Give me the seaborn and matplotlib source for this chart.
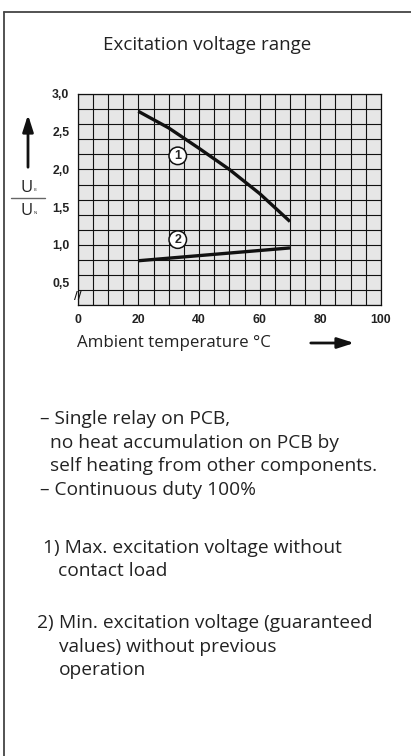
"""Excitation voltage range chart."""

import matplotlib
matplotlib.use("Agg")
import matplotlib.pyplot as plt
from matplotlib.lines import Line2D
from matplotlib.ticker import FixedFormatter
import seaborn as sns
import pandas as pd

# Data
temp_1 = [20, 30, 40, 50, 60, 70]
ratio_1 = [2.77, 2.55, 2.28, 2.00, 1.68, 1.31]
temp_2 = [20, 70]
ratio_2 = [0.79, 0.96]

x_ticks = [0, 20, 40, 60, 80, 100]
y_ticks = [0.5, 1.0, 1.5, 2.0, 2.5, 3.0]
y_tick_labels = ["0,5", "1,0", "1,5", "2,0", "2,5", "3,0"]
x_grid = list(range(0, 101, 5))
y_grid = [0.2, 0.4, 0.6, 0.8, 1.0, 1.2, 1.4, 1.6, 1.8, 2.0, 2.2, 2.4, 2.6, 2.8, 3.0]

title = "Excitation voltage range"
x_label = "Ambient temperature °C"
notes = [
    ("", ["– Single relay on PCB,", "  no heat accumulation on PCB by",
          "  self heating from other components."]),
    ("", ["– Continuous duty 100%"]),
    ("", ["1) Max. excitation voltage without", "   contact load"]),
    ("2)", ["Min. excitation voltage (guaranteed", "values) without previous",
            "operation"]),
]

sns.set_style("white")
plt.rcParams['font.family'] = ['Open Sans', 'DejaVu Sans']

TXT = "#222222"

fig = plt.figure(figsize=(4.11, 7.56), dpi=100)
ax = fig.add_axes([0.189, 0.5962, 0.738, 0.2795])
ax.set_facecolor("#e6e6e6")

# grid every 5 degrees and every 0.2 in ratio
ax.vlines(x_grid, 0.2, 3.0, color="#111111", linewidth=0.8, zorder=1)
ax.hlines(y_grid, 0, 100, color="#111111", linewidth=0.8, zorder=1)

df1 = pd.DataFrame({"t": temp_1, "r": ratio_1})
df2 = pd.DataFrame({"t": temp_2, "r": ratio_2})
sns.lineplot(data=df1, x="t", y="r", ax=ax, color="#111111", linewidth=2.4,
             zorder=5, solid_capstyle="butt")
sns.lineplot(data=df2, x="t", y="r", ax=ax, color="#111111", linewidth=2.4,
             zorder=5, solid_capstyle="butt")

ax.set_xlim(0, 100)
ax.set_ylim(0.2, 3.0)
ax.set_xticks(x_ticks)
ax.set_yticks(y_ticks)
ax.yaxis.set_major_formatter(FixedFormatter(y_tick_labels))
ax.tick_params(axis="both", which="major", length=3, width=0.8, pad=3,
               labelsize=8.8, labelcolor=TXT, color="#111111")
for lab in ax.get_xticklabels() + ax.get_yticklabels():
    lab.set_family("Liberation Sans")
    lab.set_fontweight("bold")
for s in ax.spines.values():
    s.set_color("#111111")
    s.set_linewidth(0.9)
ax.set_xlabel("")
ax.set_ylabel("")

# circled curve numbers
for num, (x, y) in zip(["1", "2"], [(33, 2.18), (33, 1.07)]):
    ax.text(x, y, num, ha="center", va="center", fontsize=9, fontweight="bold",
            family="Liberation Sans", zorder=6,
            bbox=dict(boxstyle="circle,pad=0.22", fc="white", ec="#111111", lw=1.1))

# axis break mark
ax.text(0, 0.32, "//", ha="center", va="center", fontsize=7.5, fontweight="bold",
        rotation=0, family="DejaVu Sans", color="#111111", clip_on=False, zorder=6)

# frame around figure
fig.add_artist(Line2D([4 / 411, 4 / 411], [0, 1 - 12 / 756], color="#444444", lw=1.3))
fig.add_artist(Line2D([4 / 411, 1], [1 - 12 / 756, 1 - 12 / 756], color="#444444", lw=1.3))

fig.text(207 / 411, 1 - 45 / 756, title, ha="center", va="center", fontsize=13.5,
         color=TXT)

# y label: arrow and U_B / U_N fraction
arrow_style = "-|>,head_length=1.0,head_width=0.32"
fig.add_artist(plt.Annotation("", xy=(28 / 411, 1 - 112 / 756),
                              xytext=(28 / 411, 1 - 170 / 756),
                              xycoords="figure fraction",
                              arrowprops=dict(arrowstyle=arrow_style,
                                              color="#111111", lw=2.0)))
fig.text(27 / 411, 1 - 188 / 756, "U", ha="center", va="center", fontsize=12, color=TXT)
fig.text(35 / 411, 1 - 190 / 756, "B", ha="center", va="center", fontsize=3, color=TXT)
fig.add_artist(Line2D([11 / 411, 45 / 411], [1 - 198 / 756, 1 - 198 / 756],
                      color="#666666", lw=1.0))
fig.text(27 / 411, 1 - 211 / 756, "U", ha="center", va="center", fontsize=12, color=TXT)
fig.text(35 / 411, 1 - 213 / 756, "N", ha="center", va="center", fontsize=3, color=TXT)

# x label and arrow
fig.text(77 / 411, 1 - 343 / 756, x_label, ha="left", va="center", fontsize=12.2,
         color=TXT)
fig.add_artist(plt.Annotation("", xy=(357 / 411, 1 - 343 / 756),
                              xytext=(308 / 411, 1 - 343 / 756),
                              xycoords="figure fraction",
                              arrowprops=dict(arrowstyle=arrow_style,
                                              color="#111111", lw=2.0)))

# notes
starts = [424, 495, 553, 628]
marker_x = [40, 40, 43, 37]
text_x = [40, 40, 43, 59]
line_h = 23.5
for (mark, lines), y0, mx, tx in zip(notes, starts, marker_x, text_x):
    if mark:
        fig.text(mx / 411, 1 - y0 / 756, mark, ha="left", va="baseline",
                 fontsize=13.8, color=TXT)
    for i, line in enumerate(lines):
        fig.text(tx / 411, 1 - (y0 + i * line_h) / 756, line, ha="left",
                 va="baseline", fontsize=13.8, color=TXT)

fig.savefig("out.png", dpi=100)
